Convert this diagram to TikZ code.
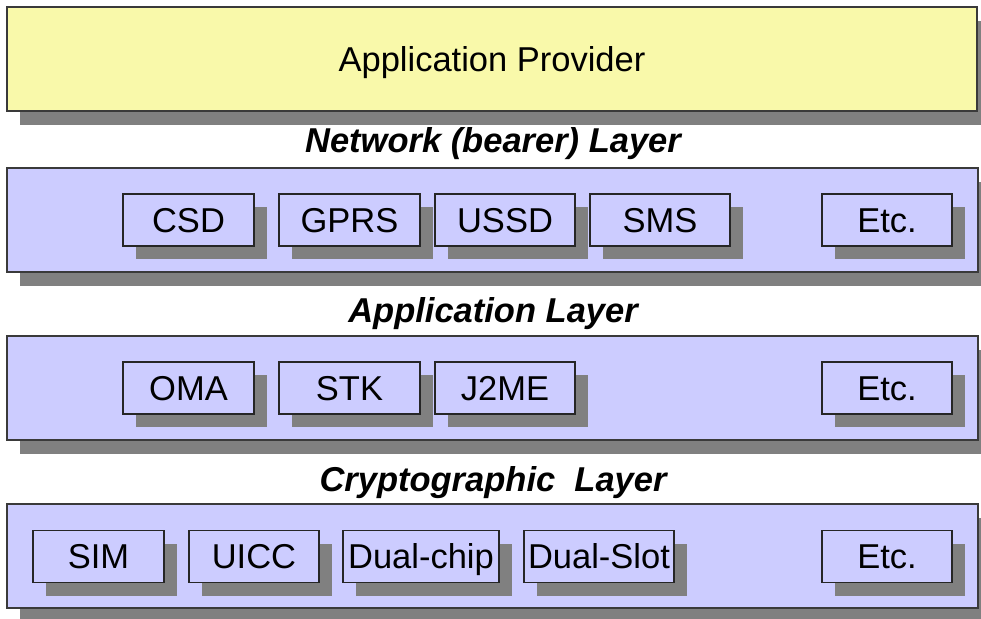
\documentclass[tikz,border=0pt]{standalone}
\usepackage{fontspec}
\setmainfont{Liberation Sans}
\usetikzlibrary{shadows}
\definecolor{provfill}{HTML}{F9F9AA}
\definecolor{layerfill}{HTML}{CCCCFF}
\definecolor{shadegray}{HTML}{808080}
\definecolor{edgegray}{HTML}{3A3A3A}
\newcommand{\labelfont}{\fontsize{34.5}{34.5}\selectfont}
\tikzset{
  layerbox/.style={draw=edgegray, line width=2pt, fill=layerfill, inner sep=0pt,
    minimum width=971pt, minimum height=104pt,
    general shadow={fill=shadegray, draw=none, shadow xshift=13pt, shadow yshift=-14pt}},
  provbox/.style={layerbox, fill=provfill, text height=24.7pt, text depth=0pt},
  itembox/.style={draw=black!85, line width=1.4pt, fill=layerfill, inner sep=0pt,
    minimum height=52pt, font=\labelfont, text height=24.7pt, text depth=0pt,
    general shadow={fill=shadegray, draw=none, shadow xshift=13pt, shadow yshift=-13pt}},
  layertitle/.style={font=\labelfont\bfseries\itshape, inner sep=0pt,
    text height=24.7pt, text depth=0pt}
}
\begin{document}
\begin{tikzpicture}[x=1pt,y=-1pt]
  \useasboundingbox (0,0) rectangle (981,618);

  % provider band
  \node[provbox, minimum width=970pt, font=\labelfont] (prov) at (492,59) {Application Provider};

  % network (bearer) layer
  \node[layertitle] (nettitle) at (493,140) {Network (bearer) Layer};
  \node[layerbox] (net) at (492.5,220) {};
  \node[itembox, minimum width=131pt] (csd)  at (188.5,220) {CSD};
  \node[itembox, minimum width=141pt] (gprs) at (349.5,220) {GPRS};
  \node[itembox, minimum width=140pt] (ussd) at (505,220) {USSD};
  \node[itembox, minimum width=140pt] (sms)  at (660,220) {SMS};
  \node[itembox, minimum width=130pt] (netetc) at (887,220) {Etc.};

  % application layer
  \node[layertitle] (apptitle) at (493,310) {Application Layer};
  \node[layerbox] (app) at (492.5,388) {};
  \node[itembox, minimum width=131pt] (oma)  at (188.5,388) {OMA};
  \node[itembox, minimum width=141pt] (stk)  at (349.5,388) {STK};
  \node[itembox, minimum width=140pt] (j2me) at (505,388) {J2ME};
  \node[itembox, minimum width=130pt] (appetc) at (887,388) {Etc.};

  % cryptographic layer
  \node[layertitle] (cryptitle) at (493,479) {Cryptographic\ \ Layer};
  \node[layerbox] (cryp) at (492.5,556) {};
  \node[itembox, minimum width=131pt] (sim)  at (98.5,556.5) {SIM};
  \node[itembox, minimum width=130pt] (uicc) at (254,556.5) {UICC};
  \node[itembox, minimum width=156pt] (dchip) at (421,556.5) {Dual-chip};
  \node[itembox, minimum width=150pt] (dslot) at (599,556.5) {Dual-Slot};
  \node[itembox, minimum width=130pt] (crypetc) at (887,556.5) {Etc.};
\end{tikzpicture}
\end{document}
